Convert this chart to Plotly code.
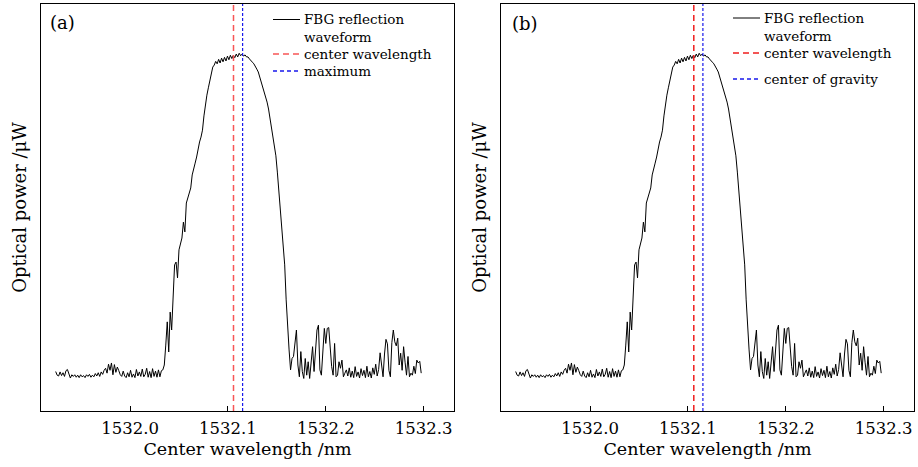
import numpy as np
import plotly.graph_objects as go

# ---------------- data ----------------
power_left_noise = [
    9.7, 8.8, 8.6, 9.6, 8.7, 9.4, 8.5, 9.9, 10.2, 9.2, 8.1, 8.9,
    8.5, 8.9, 8.3, 8.8, 8.2, 8.9, 8.4, 8.7, 8.2, 8.9, 8.5, 9.0, 8.3, 8.8, 8.4, 9.2, 8.6, 9.4, 8.5, 9.6, 9.0, 10.0,
    10.5, 9.3, 11.5, 10.0, 11.8, 8.9, 11.4, 9.5, 10.8, 9.9, 8.9,
    8.5, 9.8, 8.6, 8.2, 9.4, 8.4, 10.0, 8.3, 9.1, 8.2, 10.2, 8.6, 9.6, 8.5, 10.3, 8.4, 9.0, 10.5, 8.3, 9.7,
    8.2, 10.4, 8.5, 9.8, 8.3, 10.1, 8.4, 9.9, 10.1,
]
power_peak = [
    11.3, 16.2, 21.9, 14.5, 24.3, 19.9, 27.3, 35.9, 36.6, 32.7,
    39.6, 41.5, 42.5, 46.4, 44.0, 51.1, 52.3, 53.8, 54.8, 58.0,
    59.2, 60.9, 62.4, 64.4, 66.1, 67.3, 69.0, 72.5, 75.4, 77.6,
    79.4, 81.3, 83.0, 84.5, 85.0, 85.9, 85.3, 86.4, 85.5, 86.7,
    85.8, 86.9, 86.0, 87.2, 86.3, 87.4, 86.6, 87.4, 86.8, 87.7,
    87.0, 87.9, 87.3, 87.7, 87.2, 87.5, 87.0, 87.0, 86.5, 86.2,
    85.7, 85.3, 84.8, 84.0, 83.3, 82.1, 80.8, 79.9, 78.4, 77.4,
    75.9, 74.2, 72.0, 69.5, 67.3, 65.1, 62.7, 58.7, 54.3, 49.4,
    44.5, 40.0, 35.9, 27.3, 19.4, 15.0, 10.1,
]
power_right_noise = [
    12.9, 13.4, 16.2, 19.9, 11.3, 8.4, 14.6, 9.7, 8.0, 12.9,
    8.8, 12.1, 8.0, 12.9, 15.8, 9.7, 15.4, 19.9, 21.1, 10.1,
    8.8, 13.8, 20.3, 16.6, 20.3, 20.5, 14.6, 10.9, 8.8, 16.6,
    8.4, 8.8, 12.1, 10.5, 12.5, 8.4, 9.3, 10.1, 8.6, 10.6,
    8.3, 9.8, 8.2, 10.9, 8.5, 9.6, 8.1, 10.4, 8.7, 10.0,
    8.2, 11.0, 8.4, 9.7, 8.1, 10.6, 9.0, 11.5, 8.6, 10.2,
    14.3, 10.5, 8.4, 14.0, 17.6, 16.5, 10.0, 8.4, 16.8, 19.9,
    17.0, 16.0, 17.9, 11.3, 14.2, 10.0, 15.8, 12.0, 8.8, 13.4,
    8.4, 9.3, 8.8, 11.0, 9.2, 12.5, 11.8, 12.2, 9.3,
]
power = power_left_noise + power_peak + power_right_noise

WL_START = 1531.924   # nm, first sample
WL_STEP = 0.0015      # nm, sampling interval
wavelength = np.round(WL_START + WL_STEP * np.arange(len(power)), 5)

center_wl_a = 1532.1057
maximum_wl_a = 1532.1150
center_wl_b = 1532.1060
gravity_wl_b = 1532.1153

x_tickvals = [1532.0, 1532.1, 1532.2, 1532.3]
x_ticktext = ["1532.0", "1532.1", "1532.2", "1532.3"]
X_RANGE = [1531.909, 1532.331]
Y_RANGE = [0, 100]

legend_a = ["FBG reflection<br>waveform", "center wavelength", "maximum"]
legend_b = ["FBG reflection<br>waveform", "center wavelength", "center of gravity"]

FONT = "DejaVu Serif"
RED_A = "rgb(248,85,85)"
RED_B = "rgb(240,30,30)"
BLUE = "rgb(25,25,235)"
RED_DASH = "6px,4px"
BLUE_DASH = "3px,2px"
LEG_BLUE_DASH = "4px,3px"

W, H = 918, 467
M_T, M_B = 4, 56
PLOT_H = H - M_T - M_B
LEG_FS = 13.5

fig = go.Figure()

# ---- panel (a)
fig.add_trace(go.Scatter(x=wavelength, y=power, mode="lines",
                         line=dict(color="black", width=1),
                         name="FBG reflection waveform", showlegend=False,
                         xaxis="x", yaxis="y"))
fig.add_trace(go.Scatter(x=[center_wl_a, center_wl_a], y=Y_RANGE, mode="lines",
                         line=dict(color=RED_A, width=1.5, dash=RED_DASH),
                         name="center wavelength", showlegend=False, xaxis="x", yaxis="y"))
fig.add_trace(go.Scatter(x=[maximum_wl_a, maximum_wl_a], y=Y_RANGE, mode="lines",
                         line=dict(color=BLUE, width=1.2, dash=BLUE_DASH),
                         name="maximum", showlegend=False, xaxis="x", yaxis="y"))

# ---- panel (b)
fig.add_trace(go.Scatter(x=wavelength, y=power, mode="lines",
                         line=dict(color="black", width=1),
                         name="FBG reflection waveform", showlegend=False,
                         xaxis="x2", yaxis="y2"))
fig.add_trace(go.Scatter(x=[center_wl_b, center_wl_b], y=Y_RANGE, mode="lines",
                         line=dict(color=RED_B, width=1.5, dash=RED_DASH),
                         name="center wavelength", showlegend=False, xaxis="x2", yaxis="y2"))
fig.add_trace(go.Scatter(x=[gravity_wl_b, gravity_wl_b], y=Y_RANGE, mode="lines",
                         line=dict(color=BLUE, width=1.2, dash=BLUE_DASH),
                         name="center of gravity", showlegend=False, xaxis="x2", yaxis="y2"))

xdom_a = [41 / W, 454 / W]
xdom_b = [501 / W, 914 / W]


def xaxis_style(domain, anchor):
    return dict(domain=domain, anchor=anchor, range=X_RANGE,
                tickmode="array", tickvals=x_tickvals, ticktext=x_ticktext,
                ticks="inside", ticklen=5, tickcolor="black", tickwidth=1,
                showline=True, linecolor="black", linewidth=1, mirror=True,
                showgrid=False, zeroline=False, ticklabelstandoff=2,
                tickfont=dict(family=FONT, size=16.5, color="black"),
                title=dict(text="Center wavelength /nm", standoff=5,
                           font=dict(family=FONT, size=17.5, color="black")))


def yaxis_style(anchor):
    return dict(domain=[0, 1], anchor=anchor, range=Y_RANGE,
                showticklabels=False, ticks="",
                showline=True, linecolor="black", linewidth=1, mirror=True,
                showgrid=False, zeroline=False,
                title=dict(text="Optical power /μW", standoff=8,
                           font=dict(family=FONT, size=18, color="black")))


def py(ypx):
    return (H - M_B - ypx) / PLOT_H


def px(xpx):
    return xpx / W


annotations = [
    dict(text="(a)", xref="x domain", yref="y domain", x=0.017, y=0.955,
         xanchor="left", yanchor="middle", showarrow=False,
         font=dict(family=FONT, size=18, color="black")),
    dict(text="(b)", xref="x2 domain", yref="y2 domain", x=0.022, y=0.953,
         xanchor="left", yanchor="middle", showarrow=False,
         font=dict(family=FONT, size=18, color="black")),
]
shapes = []


def add_legend(labels, line_x0, text_x, rows, colors, dashes, widths):
    # rows: pixel y of the sample line for each entry (first entry has two text lines)
    lh = LEG_FS * 1.3
    for i, (lab, ypix) in enumerate(zip(labels, rows)):
        yc = ypix + (lh / 2 if i == 0 else 0)
        annotations.append(dict(text=lab, xref="paper", yref="paper", align="left",
                                x=px(text_x), y=py(yc), xanchor="left", yanchor="middle",
                                showarrow=False, borderpad=0,
                                font=dict(family=FONT, size=LEG_FS, color="black")))
    for ypix, c, d, w in zip(rows, colors, dashes, widths):
        shapes.append(dict(type="line", xref="paper", yref="paper",
                           x0=px(line_x0), x1=px(line_x0 + 27), y0=py(ypix), y1=py(ypix),
                           line=dict(color=c, dash=d, width=w)))


add_legend(legend_a, 273, 303, [19.5, 54, 71],
           ["black", RED_A, BLUE], ["solid", RED_DASH, LEG_BLUE_DASH], [1, 1.5, 1.5])
add_legend(legend_b, 733, 763, [18, 53, 79],
           ["black", RED_B, BLUE], ["solid", RED_DASH, LEG_BLUE_DASH], [1, 1.5, 1.5])

fig.update_layout(
    width=W, height=H,
    margin=dict(l=0, r=0, t=M_T, b=M_B),
    paper_bgcolor="white", plot_bgcolor="white",
    font=dict(family=FONT, color="black"),
    showlegend=False,
    xaxis=xaxis_style(xdom_a, "y"),
    yaxis=yaxis_style("x"),
    xaxis2=xaxis_style(xdom_b, "y2"),
    yaxis2=yaxis_style("x2"),
    annotations=annotations,
    shapes=shapes,
)

fig.write_html("out.html")
